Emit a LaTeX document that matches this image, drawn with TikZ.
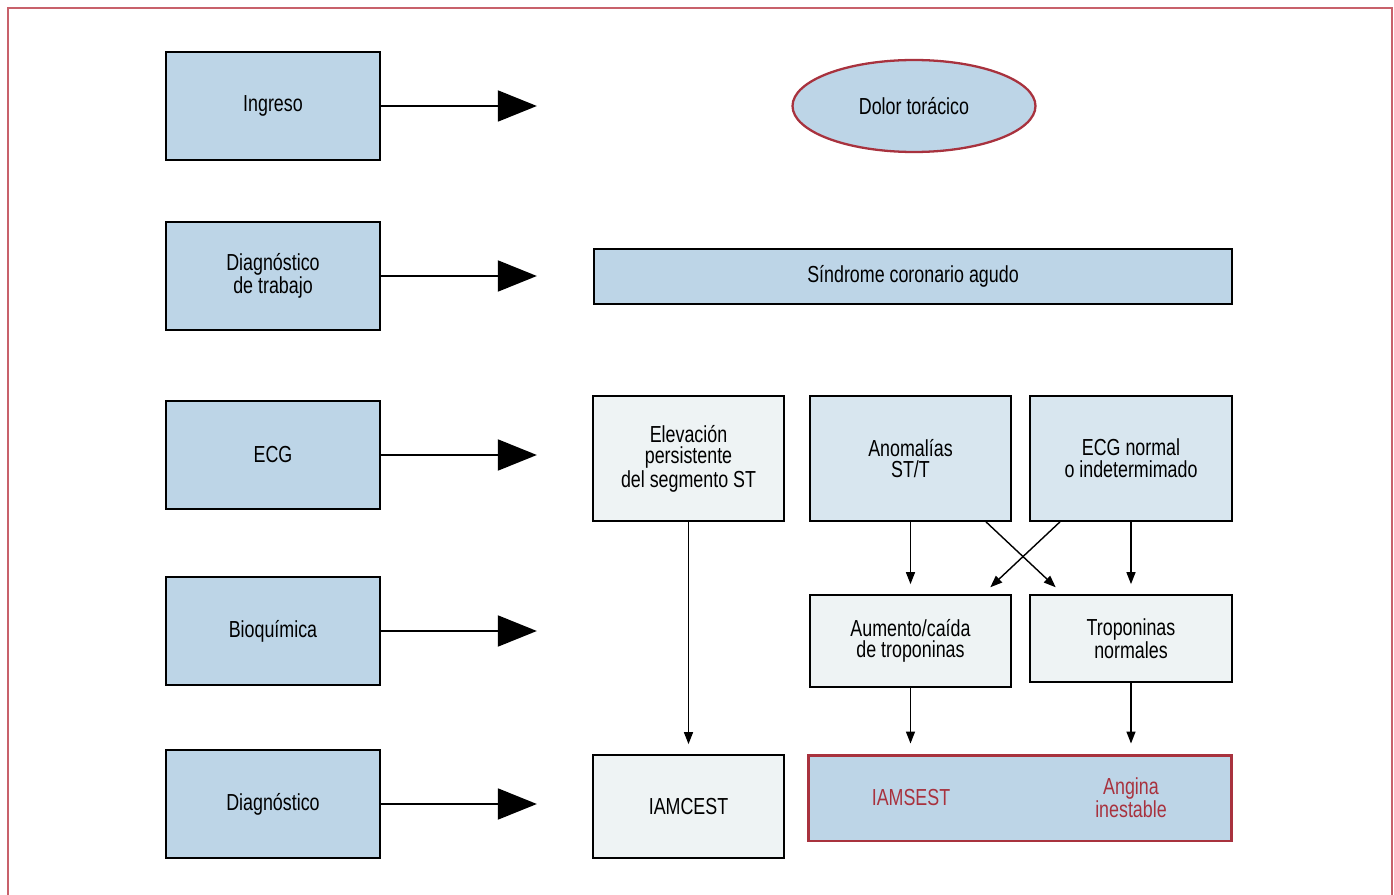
\documentclass[tikz,border=0pt]{standalone}
\usepackage{fontspec}
\setmainfont{Liberation Sans}[FakeStretch=0.77]
\usepackage{xcolor}
\usetikzlibrary{shapes.geometric, arrows.meta, positioning, calc}

\definecolor{boxblue}{HTML}{BDD5E7}
\definecolor{midblue}{HTML}{D8E6EF}
\definecolor{paleblue}{HTML}{EEF3F4}
\definecolor{darkred}{HTML}{A8323E}
\definecolor{framered}{HTML}{C8616B}

\begin{document}
\begin{tikzpicture}[
    x=0.02cm, y=-0.02cm,
    font=\fontsize{13.2}{12.3}\selectfont,
    stage/.style={rectangle, draw, line width=1pt, fill=boxblue, minimum width=4.28cm, minimum height=2.16cm, align=center},
    result/.style={rectangle, draw, line width=1pt, fill=paleblue, align=center},
    bigarrow/.style={-{Triangle[length=0.78cm, width=0.62cm]}, line width=1.1pt},
    flow/.style={-{Triangle[length=0.24cm, width=0.18cm]}, line width=0.8pt, shorten >=0.2cm}
]
    \useasboundingbox (0,0) rectangle (1394,895);
    % Outer frame (open at the bottom)
    \draw[framered, line width=1.2pt] (8,895) -- (8,8) -- (1392,8) -- (1392,895);

    % Stages on the left
    \node[stage] (ingreso) at (273,106) {Ingreso};
    \node[stage] (trabajo) at (273,276) {Diagnóstico\\de trabajo};
    \node[stage] (ecg) at (273,455) {ECG};
    \node[stage] (bioq) at (273,631) {Bioquímica};
    \node[stage] (diag) at (273,804) {Diagnóstico};

    \foreach \s in {ingreso, trabajo, ecg, bioq, diag}
        \draw[bigarrow] (\s.east) -- ($(\s.east) + (156,0)$);

    % Right side
    \node[ellipse, draw=darkred, line width=1.3pt, fill=boxblue, minimum width=4.86cm, minimum height=1.84cm] (dolor) at (914,106) {Dolor torácico};
    \node[rectangle, draw, line width=1pt, fill=boxblue, minimum width=12.76cm, minimum height=1.1cm] (sca) at (913,276.5) {Síndrome coronario agudo};

    \node[result, minimum width=3.82cm, minimum height=2.5cm] (elev) at (688.5,458.5) {Elevación\\persistente\\del segmento ST};
    \node[result, fill=midblue, minimum width=4.02cm, minimum height=2.5cm] (anom) at (910.5,458.5) {Anomalías\\ST/T};
    \node[result, fill=midblue, minimum width=4.04cm, minimum height=2.5cm] (ecgn) at (1131,458.5) {ECG normal\\o indetermimado};

    \node[result, minimum width=4.02cm, minimum height=1.84cm] (aum) at (910.5,641) {Aumento/caída\\de troponinas};
    \node[result, minimum width=4.04cm, minimum height=1.74cm] (trop) at (1131,638.5) {Troponinas\\normales};

    \node[result, minimum width=3.82cm, minimum height=2.06cm] (iamcest) at (688.5,806.5) {IAMCEST};
    \node[rectangle, draw=darkred, line width=1.7pt, fill=boxblue, minimum width=8.48cm, minimum height=1.72cm] (nste) at (1020,798) {};
    \node[text=darkred] (iamsest) at (911,798) {IAMSEST};
    \node[text=darkred, align=center] (angina) at (1131,798) {Angina\\inestable};

    % Connectors
    \draw[flow] (anom.south) -- (aum.north);
    \draw[flow] (ecgn.south) -- (trop.north);
    \draw[flow] (anom.south -| 986,0) -- (trop.north -| 1063,0);
    \draw[flow] (ecgn.south -| 1060,0) -- (aum.north -| 983,0);
    \draw[flow] (elev.south) -- (iamcest.north);
    \draw[flow] (aum.south) -- (aum.south |- nste.north);
    \draw[flow] (trop.south) -- (trop.south |- nste.north);
\end{tikzpicture}
\end{document}
